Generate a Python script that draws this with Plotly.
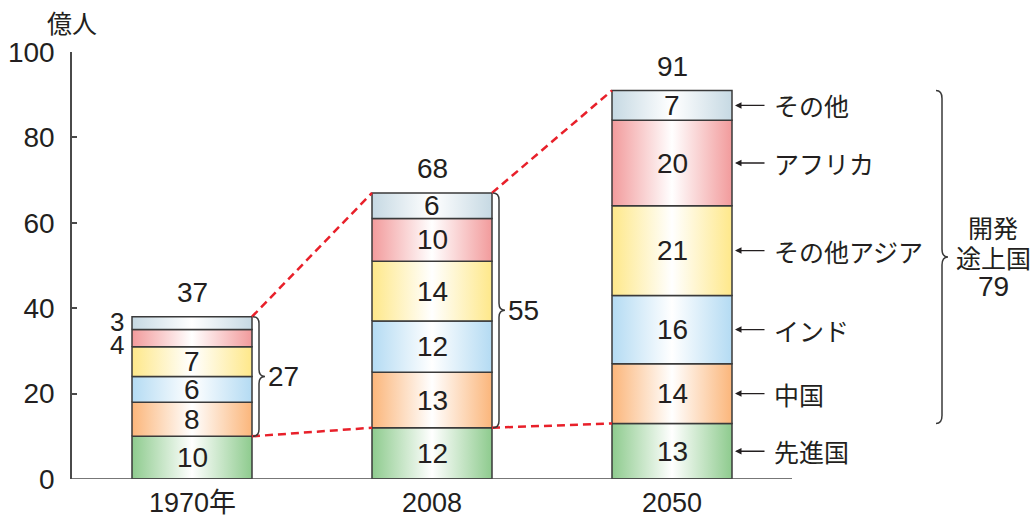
import plotly.graph_objects as go

# World population by region (100 million people)
years = ["1970年", "2008", "2050"]
regions = ["先進国", "中国", "インド", "その他アジア", "アフリカ", "その他"]
developed = [10, 12, 13]
china = [8, 13, 14]
india = [6, 12, 16]
other_asia = [7, 14, 21]
africa = [4, 10, 20]
other = [3, 6, 7]
totals = [37, 68, 91]
developing_totals = [27, 55, 79]
yticks = [0, 20, 40, 60, 80, 100]

series = [developed, china, india, other_asia, africa, other]
edge_colors = ["#8ecb8e", "#fbb67b", "#b4dbf3", "#fee88a", "#f29b9c", "#c6d9e3"]

PX_X = 240.0          # pixels per category unit
PX_Y = 4.27           # pixels per 100-million unit
HALF = 0.25           # half bar width in category units
LEFT, TOP, BOTTOM = 72, 52, 40
W, H = 1035, 519
xmax = -0.5 + (W - LEFT) / PX_X

NUM_FONT = "Liberation Sans, Arial, sans-serif"
JP_FONT = "Noto Sans CJK JP, sans-serif"
INK = "#231f20"
NUM_SIZE = 28
JP_SIZE = 25

fig = go.Figure()
annotations = []
shapes = []

small_shift = {3: 1, 4: -7}   # place the two small outside labels one above the other

stack_tops = []
dev_tops = []
for i, year in enumerate(years):
    base = 0
    for s, vals in enumerate(series):
        v = vals[i]
        x0, x1 = i - HALF, i + HALF
        fig.add_trace(go.Scatter(
            x=[x0, x1, x1, x0, x0], y=[base, base, base + v, base + v, base],
            mode="lines", fill="toself",
            fillgradient=dict(type="horizontal", start=x0, stop=x1,
                              colorscale=[[0, edge_colors[s]], [0.5, "#ffffff"], [1, edge_colors[s]]]),
            line=dict(color="#3a3a3a", width=1.5),
            hoverinfo="skip", showlegend=False,
        ))
        mid = base + v / 2
        if v >= 5:
            annotations.append(dict(x=i, y=mid, text=str(v), showarrow=False,
                                    font=dict(family=NUM_FONT, size=NUM_SIZE, color=INK)))
        else:
            annotations.append(dict(x=x0, y=mid, text=str(v), showarrow=False,
                                    xanchor="right", xshift=-6,
                                    yshift=small_shift.get(v, 0),
                                    font=dict(family=NUM_FONT, size=NUM_SIZE - 2, color=INK)))
        base += v
        if s == 0:
            dev_tops.append(base)
    stack_tops.append(base)
    annotations.append(dict(x=i, y=base, text=str(totals[i]), showarrow=False,
                            yanchor="middle", yshift=24,
                            font=dict(family=NUM_FONT, size=NUM_SIZE, color=INK)))

# Year labels under the bars
for i, year in enumerate(years):
    annotations.append(dict(x=i, y=0, text=year, showarrow=False,
                            yanchor="middle", yshift=-24,
                            font=dict(family="Liberation Sans, Noto Sans CJK JP, sans-serif",
                                      size=NUM_SIZE - 1, color=INK)))

# Red dashed connectors between consecutive bars
for tops in (stack_tops, dev_tops):
    for i in range(len(years) - 1):
        fig.add_trace(go.Scatter(
            x=[i + HALF, i + 1 - HALF], y=[tops[i], tops[i + 1]],
            mode="lines", line=dict(color="#e8202a", width=2.5, dash="8px,5px"),
            hoverinfo="skip", showlegend=False,
        ))


def brace(xb, y0, y1, wpx=6, rpx=7):
    """Right-pointing curly brace from y0 (bottom) to y1 (top) at x=xb."""
    w = wpx / PX_X
    r = rpx / PX_Y
    ym = (y0 + y1) / 2
    return (f"M {xb},{y1} Q {xb + w},{y1} {xb + w},{y1 - r} "
            f"L {xb + w},{ym + r} Q {xb + w},{ym} {xb + 2 * w},{ym} "
            f"Q {xb + w},{ym} {xb + w},{ym - r} "
            f"L {xb + w},{y0 + r} Q {xb + w},{y0} {xb},{y0}")


# Braces for developing regions beside 1970 and 2008 bars
for i in (0, 1):
    xb = i + HALF + 1 / PX_X
    shapes.append(dict(type="path", xref="x", yref="y",
                       path=brace(xb, dev_tops[i], stack_tops[i]),
                       line=dict(color="#3a3a3a", width=1.5)))
    annotations.append(dict(x=xb + 13 / PX_X, y=(dev_tops[i] + stack_tops[i]) / 2,
                            text=str(developing_totals[i]), showarrow=False,
                            xanchor="left",
                            font=dict(family=NUM_FONT, size=NUM_SIZE, color=INK)))

# Region labels with arrows for the 2050 bar
arrow_tip = 2 + HALF + 3 / PX_X
arrow_tail = 2 + HALF + 34 / PX_X
base = 0
for s, vals in enumerate(series):
    mid = base + vals[2] / 2
    annotations.append(dict(x=arrow_tip, y=mid, ax=arrow_tail, ay=mid,
                            xref="x", yref="y", axref="x", ayref="y",
                            text="", showarrow=True, arrowhead=2, arrowsize=1.0,
                            arrowwidth=1.3, arrowcolor=INK))
    annotations.append(dict(x=arrow_tail + 6 / PX_X, y=mid, text=regions[s],
                            showarrow=False, xanchor="left",
                            font=dict(family=JP_FONT, size=JP_SIZE, color=INK)))
    base += vals[2]

# Large brace covering developing regions in 2050
xb2050 = 744 / PX_X
shapes.append(dict(type="path", xref="x", yref="y",
                   path=brace(xb2050, dev_tops[2], stack_tops[2], wpx=6, rpx=8),
                   line=dict(color="#3a3a3a", width=1.5)))
group_lines = ["開発", "途上国", str(developing_totals[2])]
group_mid = (dev_tops[2] + stack_tops[2]) / 2
for k, line in enumerate(group_lines):
    annotations.append(dict(x=xb2050 + 57 / PX_X, y=group_mid, text=line,
                            showarrow=False, yshift=29.5 * (1 - k),
                            font=dict(family=JP_FONT if k < 2 else NUM_FONT,
                                      size=JP_SIZE if k < 2 else NUM_SIZE, color=INK)))

# Baseline under the bars
shapes.append(dict(type="line", xref="x", yref="y", x0=-0.5, x1=2.5, y0=0, y1=0,
                   line=dict(color="#4a4a4a", width=1.5)))

# Unit label
annotations.append(dict(xref="paper", yref="paper", x=0, y=1, xanchor="center",
                        yanchor="middle", yshift=30,
                        text="億人", showarrow=False,
                        font=dict(family=JP_FONT, size=JP_SIZE, color=INK)))

fig.update_layout(
    width=W, height=H,
    margin=dict(l=LEFT, r=0, t=TOP, b=BOTTOM, pad=0),
    plot_bgcolor="white", paper_bgcolor="white",
    showlegend=False,
    annotations=annotations,
    shapes=shapes,
    xaxis=dict(range=[-0.5, xmax], showticklabels=False,
               showline=False, showgrid=False, zeroline=False, ticks="",
               fixedrange=True),
    yaxis=dict(range=[0, 100], tickvals=yticks, showline=True, linecolor="#4a4a4a",
               linewidth=1.5, ticks="inside", ticklen=5, tickcolor="#4a4a4a",
               tickwidth=1.5, showgrid=False, zeroline=False,
               ticklabelstandoff=10,
               tickfont=dict(family=NUM_FONT, size=NUM_SIZE, color=INK),
               fixedrange=True),
)

fig.write_html("out.html")
